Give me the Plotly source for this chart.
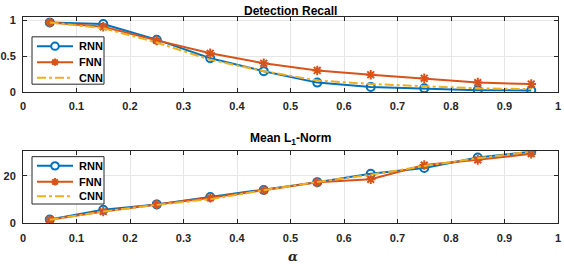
import plotly.graph_objects as go

alpha = [0.05, 0.15, 0.25, 0.35, 0.45, 0.55, 0.65, 0.75, 0.85, 0.95]
recall_rnn = [0.97, 0.95, 0.73, 0.47, 0.29, 0.13, 0.07, 0.05, 0.025, 0.02]
recall_fnn = [0.97, 0.91, 0.72, 0.54, 0.40, 0.30, 0.24, 0.19, 0.13, 0.11]
recall_cnn = [0.97, 0.89, 0.69, 0.45, 0.29, 0.16, 0.11, 0.08, 0.05, 0.04]
l1_rnn = [1.6, 5.7, 8.0, 11.1, 14.1, 17.4, 20.9, 23.4, 27.8, 30.2]
l1_fnn = [1.5, 5.0, 8.0, 10.8, 14.0, 17.3, 18.6, 24.6, 26.8, 29.4]
l1_cnn = [1.5, 5.0, 7.8, 10.2, 14.0, 17.5, 20.5, 24.2, 27.5, 30.3]
series_names = ["RNN", "FNN", "CNN"]
xticks = [0, 0.1, 0.2, 0.3, 0.4, 0.5, 0.6, 0.7, 0.8, 0.9, 1]
xticklabels = ["0", "0.1", "0.2", "0.3", "0.4", "0.5", "0.6", "0.7", "0.8", "0.9", "1"]

C_RNN, C_FNN, C_CNN = "#0072BD", "#D95319", "#EDB120"
COLORS = [C_RNN, C_FNN, C_CNN]
FONT = "Liberation Sans"

fig = go.Figure()

def add(x, y, name, color, axis, mode, symbol=None, dash="solid"):
    kw = dict(x=x, y=y, name=name, mode=mode, xaxis=axis[0], yaxis=axis[1],
              showlegend=False, line=dict(color=color, width=2, dash=dash))
    if symbol:
        kw["marker"] = dict(symbol=symbol, size=8, color=color,
                            line=dict(color=color, width=2))
    fig.add_trace(go.Scatter(**kw))

add(alpha, recall_rnn, "RNN", C_RNN, ("x", "y"), "lines+markers", "circle-open")
add(alpha, recall_fnn, "FNN", C_FNN, ("x", "y"), "lines+markers", "asterisk-open")
add(alpha, recall_cnn, "CNN", C_CNN, ("x", "y"), "lines", dash="dashdot")
add(alpha, l1_rnn, "RNN", C_RNN, ("x2", "y2"), "lines+markers", "circle-open")
add(alpha, l1_fnn, "FNN", C_FNN, ("x2", "y2"), "lines+markers", "asterisk-open")
add(alpha, l1_cnn, "CNN", C_CNN, ("x2", "y2"), "lines", dash="dashdot")

W, H = 564.0, 268.0
W_L, W_R = 23, 6
PW = W - W_L - W_R
def px(p):
    return (p - W_L) / PW
def py(p):
    return (H - p) / H

shapes = []
annotations = []

def legend_box(top, bottom, rows):
    shapes.append(dict(type="rect", xref="paper", yref="paper", layer="above",
                       x0=px(32), x1=px(104), y0=py(bottom), y1=py(top),
                       fillcolor="white", line=dict(color="#262626", width=1)))
    for i, (name, color, yr) in enumerate(zip(series_names, COLORS, rows)):
        dash = "dashdot" if i == 2 else "solid"
        shapes.append(dict(type="line", xref="paper", yref="paper", layer="above",
                           x0=px(37), x1=px(73), y0=py(yr), y1=py(yr),
                           line=dict(color=color, width=2, dash=dash)))
        cx, r = 55, 3.8
        if i == 0:
            shapes.append(dict(type="circle", xref="paper", yref="paper", layer="above",
                               x0=px(cx - r), x1=px(cx + r), y0=py(yr + r), y1=py(yr - r),
                               fillcolor="white", line=dict(color=color, width=2)))
        elif i == 1:
            d = r * 0.72
            path = (f"M{px(cx - r)},{py(yr)} L{px(cx + r)},{py(yr)} "
                    f"M{px(cx)},{py(yr - r)} L{px(cx)},{py(yr + r)} "
                    f"M{px(cx - d)},{py(yr - d)} L{px(cx + d)},{py(yr + d)} "
                    f"M{px(cx - d)},{py(yr + d)} L{px(cx + d)},{py(yr - d)}")
            shapes.append(dict(type="path", xref="paper", yref="paper", layer="above",
                               path=path, line=dict(color=color, width=2)))
        annotations.append(dict(text=f"<b>{name}</b>", x=px(77), y=py(yr), xref="paper",
                                yref="paper", showarrow=False, xanchor="left",
                                yanchor="middle",
                                font=dict(family=FONT, size=11, color="#000")))

legend_box(35, 84, [44.7, 61.2, 77.3])
legend_box(159, 208, [168.5, 185, 200])

axcommon = dict(showline=True, linecolor="#262626", linewidth=1, mirror="ticks",
                ticks="inside", ticklen=4, tickcolor="#262626",
                showgrid=True, gridcolor="#E6E6E6", gridwidth=1, zeroline=False,
                ticklabeloverflow="allow", ticklabelstandoff=4,
                tickfont=dict(family=FONT, size=11, color="#262626", weight="bold"))

annotations += [
    dict(text="<b>Detection Recall</b>", x=0.5, y=py(8), xref="paper", yref="paper",
         showarrow=False, font=dict(family=FONT, size=12, color="#000"),
         xanchor="center", yanchor="middle"),
    dict(text="<b>Mean L<sub>1</sub>-Norm</b>", x=0.5, y=py(141), xref="paper",
         yref="paper", showarrow=False, font=dict(family=FONT, size=12, color="#000"),
         xanchor="center", yanchor="middle"),
    dict(text="<b><i>α</i></b>", x=px(293), y=py(262), xref="paper", yref="paper",
         showarrow=False, font=dict(family="DejaVu Serif", size=13, color="#262626"),
         xanchor="center", yanchor="middle", borderpad=0),
]

fig.update_layout(
    width=int(W), height=int(H),
    margin=dict(l=W_L, r=W_R, t=0, b=0),
    paper_bgcolor="white", plot_bgcolor="white",
    showlegend=False,
    xaxis=dict(domain=[0, 1], range=[0, 1], tickvals=xticks, ticktext=xticklabels,
               anchor="y", **axcommon),
    yaxis=dict(domain=[py(92), py(15)], range=[0, 1.04], tickvals=[0, 0.5, 1],
               ticktext=["0", "0.5", "1"], anchor="x", **axcommon),
    xaxis2=dict(domain=[0, 1], range=[0, 1], tickvals=xticks, ticktext=xticklabels,
                anchor="y2", **axcommon),
    yaxis2=dict(domain=[py(228), py(153)], range=[0, 30.6], tickvals=[0, 20],
                ticktext=["0", "20"], anchor="x2", **axcommon),
    shapes=shapes,
    annotations=annotations,
)

fig.write_html("out.html", config={"displayModeBar": False},
               post_script="document.body.style.margin='0';document.body.style.overflow='hidden';")
